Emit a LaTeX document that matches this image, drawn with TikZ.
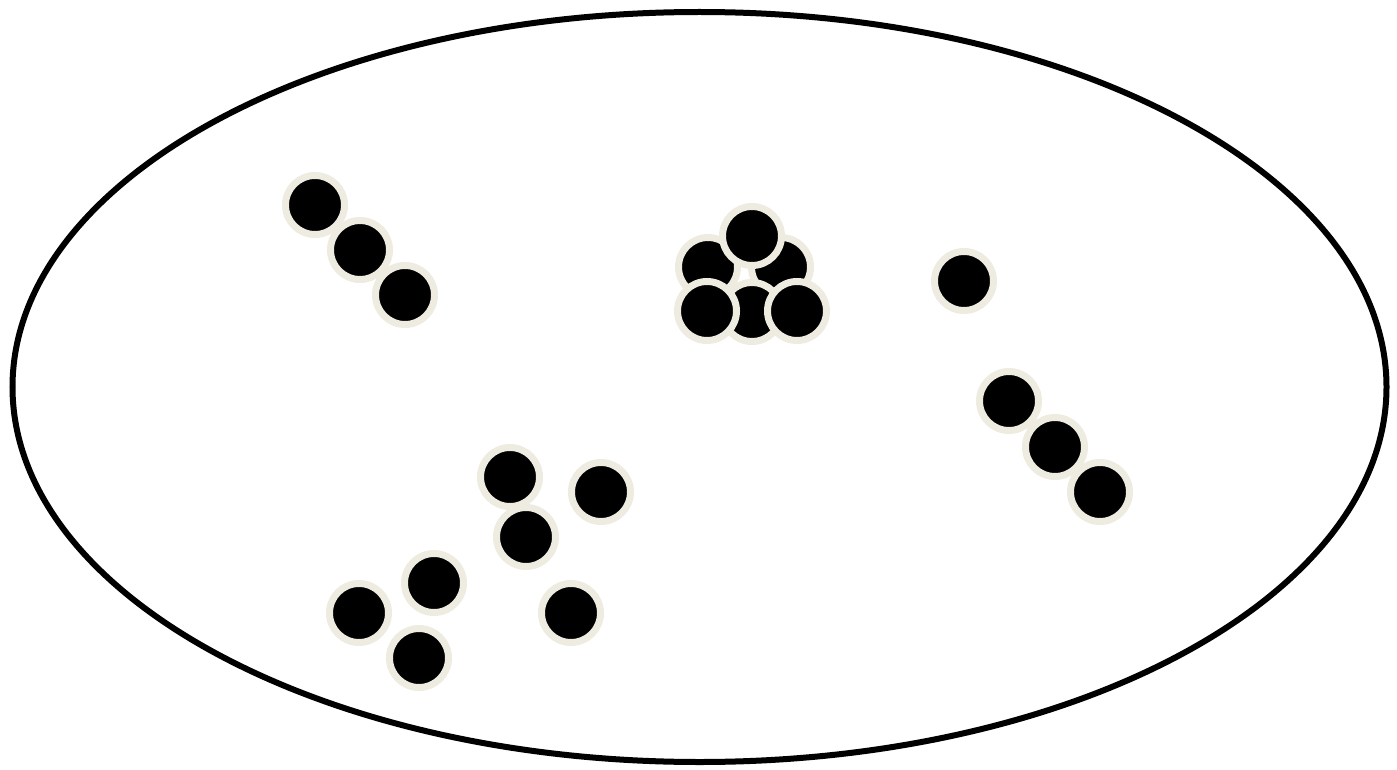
\documentclass[tikz,border=0pt]{standalone}
\definecolor{cream}{RGB}{238,236,225}
\tikzset{
  dot/.style={circle, inner sep=0pt, minimum size=59pt, fill=black, draw=cream, line width=7pt},
  frame/.style={draw=black, line width=6pt}
}
\begin{document}
\begin{tikzpicture}[x=1pt,y=-1pt]
\useasboundingbox (0,0) rectangle (1397,770);
\coordinate (field) at (699.5,387);
\draw[frame] (field) ellipse [x radius=687pt, y radius=375pt];
% upper-left row
\node[dot] (a1) at (315,205) {};
\node[dot] (a2) at (360,250) {};
\node[dot] (a3) at (405,295) {};
% cluster
\node[dot] (c1) at (708,267) {};
\node[dot] (c2) at (781,267) {};
\node[dot] (c3) at (752,236) {};
\node[dot] (c4) at (752,312) {};
\node[dot] (c5) at (707,311) {};
\node[dot] (c6) at (797,311) {};
% single
\node[dot] (s1) at (964,281) {};
% right row
\node[dot] (r1) at (1009,401) {};
\node[dot] (r2) at (1055,447) {};
\node[dot] (r3) at (1100,492) {};
% lower-left scatter
\node[dot] (l1) at (510,477) {};
\node[dot] (l2) at (601,492) {};
\node[dot] (l3) at (526,537) {};
\node[dot] (l4) at (434,583) {};
\node[dot] (l5) at (359,613) {};
\node[dot] (l6) at (419,658) {};
\node[dot] (l7) at (571,613) {};
\end{tikzpicture}
\end{document}
